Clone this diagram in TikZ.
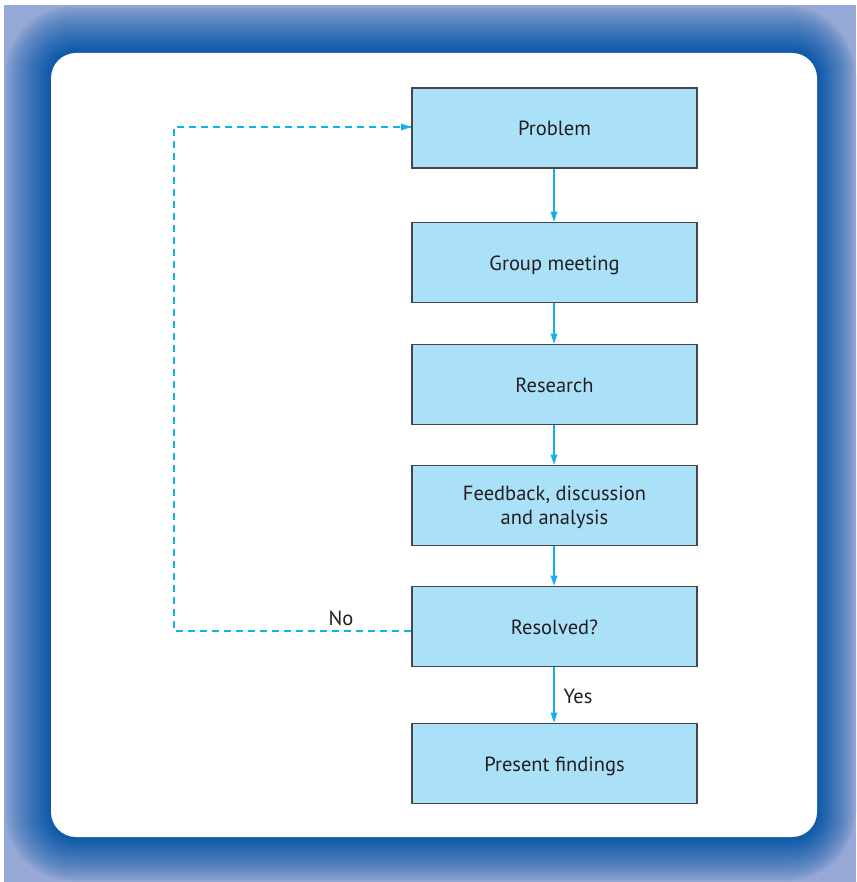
\documentclass[tikz,border=0pt]{standalone}
\usepackage{fontspec}
\setmainfont{PT Sans}
\usetikzlibrary{arrows.meta}
\definecolor{framelight}{RGB}{150,168,213}
\definecolor{framedark}{RGB}{12,88,168}
\definecolor{boxfill}{RGB}{171,224,249}
\definecolor{boxline}{RGB}{70,70,72}
\definecolor{flowcol}{RGB}{20,176,236}
\definecolor{txtcol}{RGB}{35,31,32}
\tikzset{
  stepbox/.style={draw=boxline, line width=1.6pt, fill=boxfill, minimum width=285pt, minimum height=80pt, inner sep=0pt, align=center, text=txtcol, font=\fontsize{20.5}{24}\selectfont, text height=21pt, text depth=5pt},
  flow/.style={draw=flowcol, line width=1.4pt, -{Triangle[length=10pt,width=6.5pt]}},
  dashflow/.style={draw=flowcol, line width=1.2pt, dash pattern=on 7pt off 5pt},
  lbl/.style={text=txtcol, font=\fontsize{20.5}{24}\selectfont, inner sep=0pt}
}
\begin{document}
\begin{tikzpicture}[x=1pt,y=-1pt]
\useasboundingbox (0,0) rectangle (856,882);
% frame
\fill[framelight] (4,5) rectangle (856,882);
\foreach \k in {0,...,45}{
  \pgfmathsetmacro{\t}{\k/45}
  \pgfmathsetmacro{\p}{100*(\t^0.75)}
  \pgfmathsetmacro{\r}{25+(1-\t)*45}
  \colorlet{lay}{framedark!\p!framelight}
  \fill[lay, rounded corners=\r pt] ({4+47*\t},{5+48*\t}) rectangle ({856-39*\t},{882-45*\t});
}
\fill[white, rounded corners=25pt] (51,53) rectangle (817,837);
% boxes
\node[stepbox] (prob) at (554.5,128) {Problem};
\node[stepbox] (meet) at (554.5,262.5) {Group meeting};
\node[stepbox] (res) at (554.5,384.5) {Research};
\node[stepbox, text height=43pt, text depth=5pt] (feed) at (554.5,505.5) {Feedback, discussion\\and analysis};
\node[stepbox] (solv) at (554.5,626.5) {Resolved?};
\node[stepbox] (pres) at (554.5,763.5) {Present findings};
% arrows
\foreach \a/\b in {prob/meet,meet/res,res/feed,feed/solv,solv/pres}{
  \draw[flow] ([xshift=-0.5pt]\a.south) -- ([xshift=-0.5pt]\b.north);
}
\coordinate (c1) at (174,631);
\coordinate (c2) at (174,127);
\draw[dashflow] (c1 -| solv.west) -- (c1) -- (c2) -- (c2 -| prob.west);
\draw[flow, dash pattern=on 0pt off 30pt] ([xshift=-10pt]c2 -| prob.west) -- (c2 -| prob.west);
\node[lbl] (no) at (341,618) {No};
\node[lbl] (yes) at (578,696) {Yes};
\end{tikzpicture}
\end{document}
